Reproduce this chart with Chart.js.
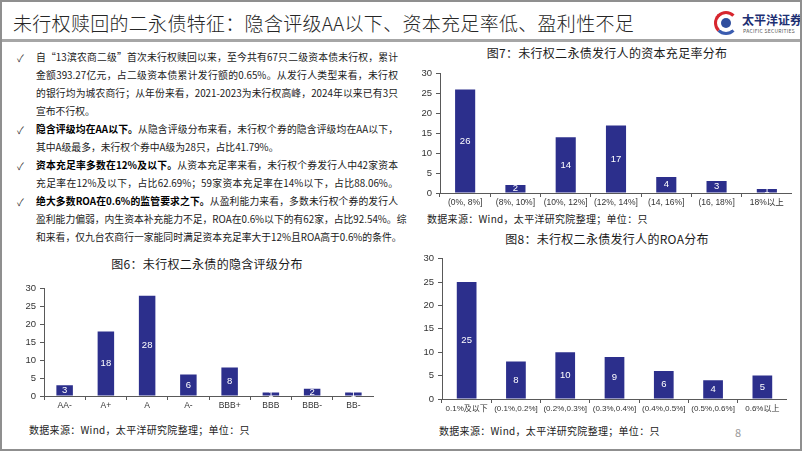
<!DOCTYPE html>
<html>
<head>
<meta charset="utf-8">
<script src="https://cdn.jsdelivr.net/npm/chart.js@4.4.1/dist/chart.umd.min.js"></script>
<style>
  html, body { margin: 0; padding: 0; }
  body {
    width: 802px; height: 451px; position: relative; overflow: hidden;
    background: #fff; font-family: "Noto Sans CJK SC", sans-serif; color: #222;
    box-sizing: border-box; border: 2px solid #8f8f8f;
  }
  .abs { position: absolute; }
  #title { left: 11px; top: 7px; font-size: 19px; letter-spacing: 0.3px; color: #262626; white-space: nowrap; font-weight: 300; }
  #sep { left: 0; top: 37px; width: 802px; height: 3px; background: #a6a6a6; }
  #body { left: 34px; top: 46px; width: 362px; font-size: 9.8px; line-height: 18px; color: #1a1a1a; }
  #body div { white-space: nowrap; text-align: justify; text-align-last: justify; }
  #body div.last { text-align-last: left; }
  #body b { font-weight: bold; color: #000; }
  .chk { left: 15px; font-size: 10px; color: #333; }
  .ctitle { font-size: 12px; color: #1a1a1a; white-space: nowrap; transform: translateX(-50%); letter-spacing: 0.3px; }
  .src { font-size: 10px; color: #222; white-space: nowrap; letter-spacing: 0.3px; }
  canvas { position: absolute; }
</style>
</head>
<body>
<div id="title" class="abs">未行权赎回的二永债特征：隐含评级AA以下、资本充足率低、盈利性不足</div>
<div id="sep" class="abs"></div>

<!-- logo -->
<div class="abs" style="left:712px;top:9px;width:24px;height:24px;border-radius:50%;border:3px solid #d7262e;border-right-color:transparent;border-bottom-color:#3a5cb0;box-sizing:border-box;"></div>
<div class="abs" style="left:719px;top:16px;width:10px;height:10px;border-radius:50%;background:#2f4e9e;"></div>
<div class="abs" style="left:740px;top:9px;font-size:12px;font-weight:bold;color:#1d2f73;white-space:nowrap;">太平洋证券</div>
<div class="abs" style="left:741px;top:25px;font-size:5px;color:#555;white-space:nowrap;letter-spacing:0.3px;">PACIFIC SECURITIES</div>

<div class="abs chk" style="top:48px;">✓</div>
<div class="abs chk" style="top:120px;">✓</div>
<div class="abs chk" style="top:156px;">✓</div>
<div class="abs chk" style="top:192px;">✓</div>

<div id="body" class="abs">
  <div>自“13滨农商二级”首次未行权赎回以来，至今共有67只二级资本债未行权，累计</div>
  <div>金额393.27亿元，占二级资本债累计发行额的0.65%。从发行人类型来看，未行权</div>
  <div>的银行均为城农商行；从年份来看，2021-2023为未行权高峰，2024年以来已有3只</div>
  <div class="last">宣布不行权。</div>
  <div><b>隐含评级均在AA以下。</b>从隐含评级分布来看，未行权个券的隐含评级均在AA以下，</div>
  <div class="last">其中A级最多，未行权个券中A级为28只，占比41.79%。</div>
  <div><b>资本充足率多数在12%及以下。</b>从资本充足率来看，未行权个券发行人中42家资本</div>
  <div>充足率在12%及以下，占比62.69%；59家资本充足率在14%以下，占比88.06%。</div>
  <div><b>绝大多数ROA在0.6%的监管要求之下。</b>从盈利能力来看，多数未行权个券的发行人</div>
  <div>盈利能力偏弱，内生资本补充能力不足，ROA在0.6%以下的有62家，占比92.54%。综</div>
  <div>和来看，仅九台农商行一家能同时满足资本充足率大于12%且ROA高于0.6%的条件。</div>
</div>

<div class="abs ctitle" style="left:605px;top:42px;">图7：未行权二永债发行人的资本充足率分布</div>
<div class="abs src" style="left:425px;top:209px;">数据来源：Wind，太平洋研究院整理；单位：只</div>

<div class="abs ctitle" style="left:205px;top:253px;">图6：未行权二永债的隐含评级分布</div>
<div class="abs src" style="left:27px;top:420px;">数据来源：Wind，太平洋研究院整理；单位：只</div>

<div class="abs ctitle" style="left:605px;top:228px;">图8：未行权二永债发行人的ROA分布</div>
<div class="abs src" style="left:437px;top:421px;">数据来源：Wind，太平洋研究院整理；单位：只</div>
<div class="abs" style="left:733px;top:422px;font-size:11px;color:#999;">8</div>

<canvas id="car" style="left:408px;top:62px;" width="382" height="145"></canvas>
<canvas id="rating" style="left:12px;top:277px;" width="360" height="133"></canvas>
<canvas id="roa" style="left:410px;top:247px;" width="375" height="166"></canvas>

<script>
// 图7 资本充足率分布
var carLabels = ['(0%, 8%]', '(8%, 10%]', '(10%, 12%]', '(12%, 14%]', '(14, 16%]', '(16, 18%]', '18%以上'];
var carValues = [26, 2, 14, 17, 4, 3, 1];

// 图6 隐含评级分布
var ratingLabels = ['AA-', 'A+', 'A', 'A-', 'BBB+', 'BBB', 'BBB-', 'BB-'];
var ratingValues = [3, 18, 28, 6, 8, 1, 2, 1];

// 图8 ROA分布
var roaLabels = ['0.1%及以下', '(0.1%,0.2%]', '(0.2%,0.3%]', '(0.3%,0.4%]', '(0.4%,0.5%]', '(0.5%,0.6%]', '0.6%以上'];
var roaValues = [25, 8, 10, 9, 6, 4, 5];

var yTicks = [0, 5, 10, 15, 20, 25, 30];

var barColor = '#2c2f8c';
var axisColor = '#595959';
var fontFam = '"Liberation Sans", "Noto Sans CJK SC", sans-serif';

// white value labels in the middle of each bar
var barLabels = {
    id: 'barLabels',
    afterDatasetsDraw: function(chart) {
        var ctx = chart.ctx;
        var meta = chart.getDatasetMeta(0);
        var data = chart.data.datasets[0].data;
        ctx.save();
        ctx.fillStyle = '#fff';
        ctx.font = '9.5px ' + fontFam;
        ctx.textAlign = 'center';
        ctx.textBaseline = 'middle';
        meta.data.forEach(function(bar, i) {
            ctx.fillText(String(data[i]), bar.x, (bar.y + bar.base) / 2);
        });
        ctx.restore();
    }
};

function makeChart(id, labels, values, xFont) {
    var ctx = document.getElementById(id).getContext('2d');
    return new Chart(ctx, {
        type: 'bar',
        data: {
            labels: labels,
            datasets: [{
                data: values,
                backgroundColor: barColor,
                barPercentage: 0.4,
                categoryPercentage: 1
            }]
        },
        options: {
            responsive: false,
            animation: false,
            layout: { padding: { top: 6, right: 0, left: 0, bottom: 0 } },
            plugins: { legend: { display: false }, tooltip: { enabled: false } },
            scales: {
                x: {
                    offset: true,
                    grid: { display: true, offset: true, drawOnChartArea: false, tickLength: 4, color: axisColor },
                    border: { color: axisColor },
                    ticks: { color: '#333', font: { size: xFont, family: fontFam }, maxRotation: 0, autoSkip: false, padding: 1 },
                    afterFit: function(scale) { scale.height = 16; }
                },
                y: {
                    min: 0,
                    max: 30,
                    afterBuildTicks: function(scale) {
                        scale.ticks = yTicks.map(function(v) { return { value: v }; });
                    },
                    grid: { display: true, drawOnChartArea: false, tickLength: 4, color: axisColor },
                    border: { color: axisColor },
                    ticks: { color: '#333', font: { size: 9.5, family: fontFam }, padding: 4 },
                    afterFit: function(scale) { scale.width = 30; }
                }
            }
        },
        plugins: [barLabels]
    });
}

makeChart('car', carLabels, carValues, 8.5);
makeChart('rating', ratingLabels, ratingValues, 8.5);
makeChart('roa', roaLabels, roaValues, 8);
</script>
</body>
</html>
